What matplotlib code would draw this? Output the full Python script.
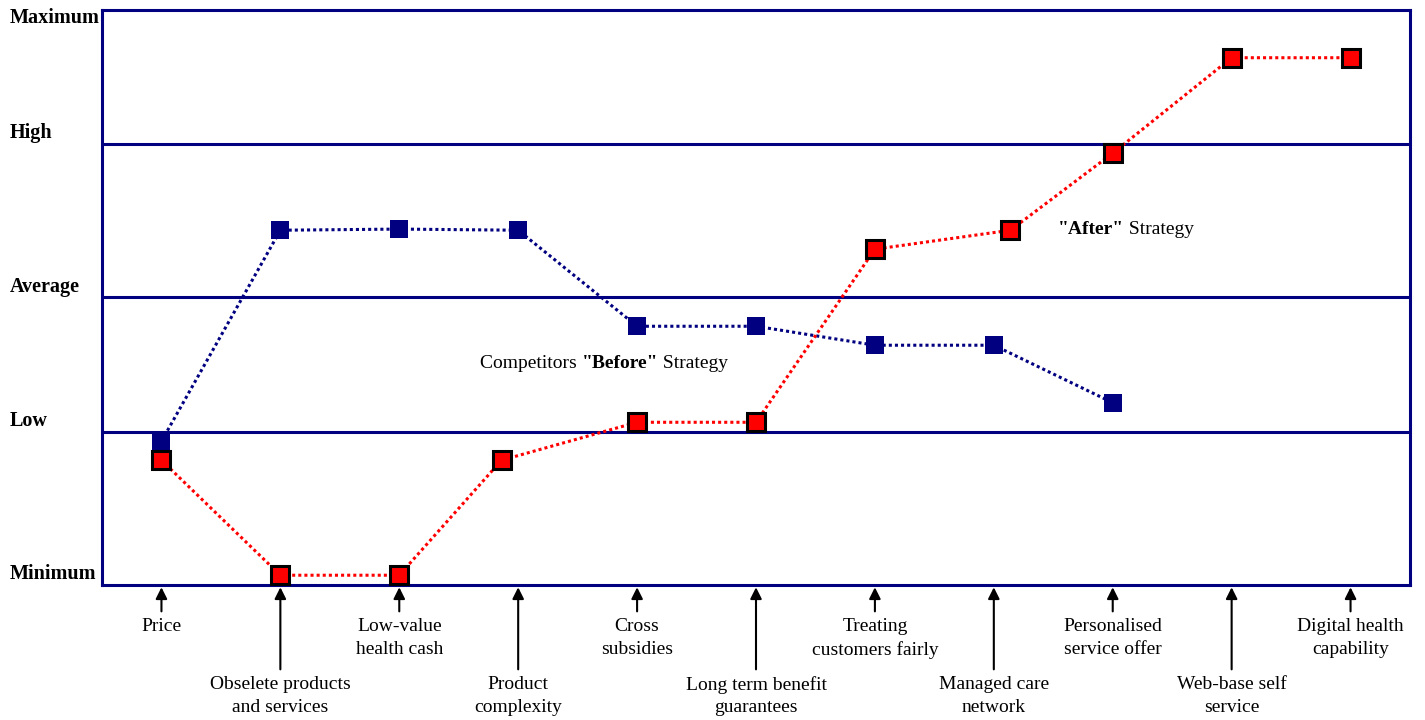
import matplotlib
matplotlib.use("Agg")
import matplotlib.pyplot as plt

plt.rcParams["font.family"] = ["Liberation Serif", "DejaVu Serif"]

# data
categories = ["Price", "Obselete products\nand services", "Low-value\nhealth cash",
              "Product\ncomplexity", "Cross\nsubsidies", "Long term benefit\nguarantees",
              "Treating\ncustomers fairly", "Managed care\nnetwork", "Personalised\nservice offer",
              "Web-base self\nservice", "Digital health\ncapability"]

before_x = [0, 1, 2, 3, 4, 5, 6, 7, 8]
before_y = [25.0, 61.7, 61.9, 61.7, 45.0, 45.0, 41.7, 41.7, 31.7]

after_x = [0, 1, 2, 2.86, 4, 5, 6, 7.14, 8, 9, 10]
after_y = [21.7, 1.7, 1.7, 21.7, 28.3, 28.3, 58.4, 61.7, 75.1, 91.7, 91.7]

level_names = ["Maximum", "High", "Average", "Low", "Minimum"]
level_lines = [26.6, 50.1, 76.7]

navy = "#000080"
fs = 14

fig = plt.figure(figsize=(14.25, 7.2), dpi=100)
ax = fig.add_axes([102 / 1425, 1 - 585 / 720, (1410 - 102) / 1425, (585 - 10) / 720])
ax.set_xlim(-0.5, 10.5)
ax.set_ylim(0, 100)
ax.set_xticks([])
ax.set_yticks([])
for s in ax.spines.values():
    s.set_color(navy)
    s.set_linewidth(2.2)

for v in level_lines:
    ax.axhline(v, color=navy, lw=2.2, zorder=1)

ax.plot(before_x, before_y, color=navy, lw=2.2, linestyle=(0, (1, 1)),
        marker="s", markersize=13, markerfacecolor=navy, markeredgewidth=0, zorder=3)
ax.plot(after_x, after_y, color="#FF0000", lw=2.2, linestyle=(0, (1, 1)),
        marker="s", markersize=13.5, markerfacecolor="#FF0000", markeredgecolor="black",
        markeredgewidth=2.2, zorder=4)


# mixed regular / bold text, pieces placed one after another
def mixed_text(x, y, pieces, center=False):
    renderer = fig.canvas.get_renderer()
    texts = []
    t = ax.text(x, y, pieces[0][0], fontsize=fs, fontweight=pieces[0][1],
                ha="left", va="center")
    texts.append(t)
    for s, w in pieces[1:]:
        t = ax.annotate(s, xy=(1, 0.5), xycoords=t, fontsize=fs, fontweight=w,
                        ha="left", va="center")
        texts.append(t)
    if center:
        fig.canvas.draw()
        x0 = texts[0].get_window_extent(renderer).x0
        x1 = texts[-1].get_window_extent(renderer).x1
        shift = (x1 - x0) / 2
        px, py = ax.transData.transform((x, y))
        nx, _ = ax.transData.inverted().transform((px - shift, py))
        texts[0].set_x(nx)


mixed_text(3.72, 38.6, [("Competitors ", "normal"), ('"Before"', "bold"),
                        (" Strategy", "normal")], center=True)
mixed_text(7.54, 61.9, [('"After"', "bold"), (" Strategy", "normal")])

# category labels with arrows
for i, lab in enumerate(categories):
    off = -31 if i % 2 == 0 else -89
    ax.annotate(lab, xy=(i, -0.004), xycoords=("data", "axes fraction"),
                xytext=(0, off), textcoords="offset pixels", ha="center", va="top",
                fontsize=fs, linespacing=1.4, annotation_clip=False,
                arrowprops=dict(arrowstyle="-|>", color="black", lw=1.5,
                                mutation_scale=17, shrinkA=3, shrinkB=0))

# level labels on the left
level_y = [18, 133, 287, 421, 574]
for name, y in zip(level_names, level_y):
    fig.text(10 / 1425, 1 - y / 720, name, fontsize=14.5, fontweight="bold",
             ha="left", va="center")

fig.savefig("out.png", dpi=100)
